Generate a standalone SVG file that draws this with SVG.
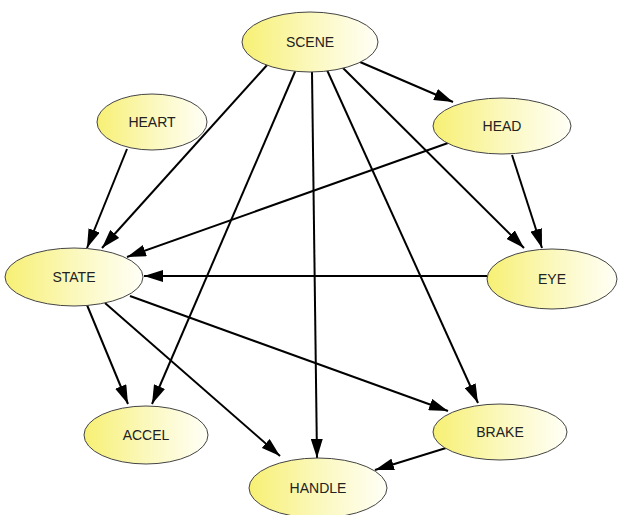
<svg xmlns="http://www.w3.org/2000/svg" width="620" height="515" viewBox="0 0 620 515">
<defs>
<linearGradient id="g" x1="0" y1="0" x2="1" y2="0">
<stop offset="0" stop-color="#f7f074"/>
<stop offset="0.5" stop-color="#fbf8bc"/>
<stop offset="1" stop-color="#fffff7"/>
</linearGradient>
<marker id="ah" markerUnits="userSpaceOnUse" markerWidth="19" markerHeight="12" refX="19" refY="6" orient="auto">
<path d="M0,0 L19,6 L0,12 z" fill="#000"/>
</marker>
<style>
.n ellipse{fill:url(#g);stroke:#444;stroke-width:1}
.n text{font-family:"Liberation Sans",Arial,sans-serif;font-size:14px;fill:#222;text-anchor:middle;dominant-baseline:central}
.e line{stroke:#000;stroke-width:2;marker-end:url(#ah)}
</style>
</defs>
<rect width="620" height="515" fill="#fff"/>
<g id="edges" class="e">
<line x1="268" y1="64" x2="102" y2="248"/>
<line x1="297" y1="67" x2="152" y2="404"/>
<line x1="312" y1="72" x2="317" y2="458"/>
<line x1="327" y1="70" x2="478" y2="403"/>
<line x1="342" y1="67" x2="524" y2="248"/>
<line x1="360" y1="62" x2="453" y2="102"/>
<line x1="127" y1="149" x2="87" y2="248"/>
<line x1="448" y1="143" x2="127" y2="257"/>
<line x1="512" y1="155" x2="542" y2="248"/>
<line x1="487" y1="276" x2="144" y2="276"/>
<line x1="87" y1="305" x2="128" y2="404"/>
<line x1="105" y1="303" x2="280" y2="456"/>
<line x1="130" y1="296" x2="448" y2="411"/>
<line x1="446" y1="448" x2="375" y2="470"/>
</g>
<g id="SCENE" class="n"><ellipse cx="310" cy="42" rx="68" ry="30"/><text x="310" y="42">SCENE</text></g>
<g id="HEART" class="n"><ellipse cx="152" cy="122" rx="55" ry="28"/><text x="152" y="122">HEART</text></g>
<g id="HEAD" class="n"><ellipse cx="502" cy="126" rx="69" ry="28"/><text x="502" y="126">HEAD</text></g>
<g id="STATE" class="n"><ellipse cx="74" cy="277" rx="69" ry="29"/><text x="74" y="277">STATE</text></g>
<g id="EYE" class="n"><ellipse cx="552" cy="279" rx="65" ry="30"/><text x="552" y="279">EYE</text></g>
<g id="ACCEL" class="n"><ellipse cx="146" cy="435" rx="62" ry="29"/><text x="146" y="435">ACCEL</text></g>
<g id="BRAKE" class="n"><ellipse cx="500" cy="432" rx="67" ry="28"/><text x="500" y="432">BRAKE</text></g>
<g id="HANDLE" class="n"><ellipse cx="318" cy="488" rx="69" ry="30"/><text x="318" y="488">HANDLE</text></g>
</svg>
